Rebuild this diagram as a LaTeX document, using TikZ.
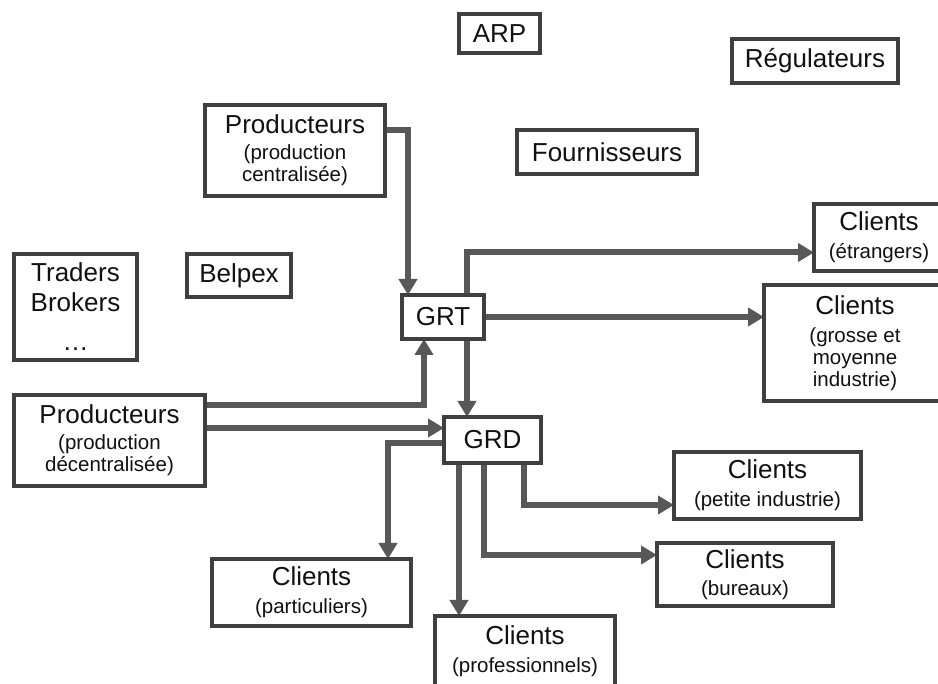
\documentclass[tikz,border=0pt]{standalone}
\usepackage{fontspec}
\setmainfont{Liberation Sans}
\usetikzlibrary{arrows.meta,backgrounds}
\definecolor{boxc}{HTML}{3F3F3F}
\definecolor{arrc}{HTML}{585858}
\definecolor{txtc}{HTML}{111111}
\newcommand{\mainsz}{\fontsize{26}{29}\selectfont}
\newcommand{\subsz}{\fontsize{20.5}{23}\selectfont}
\begin{document}
\begin{tikzpicture}[x=1pt,y=-1pt,
  box/.style={draw=boxc, line width=4pt, fill=white, inner sep=0pt, outer sep=0pt,
    align=center, font=\mainsz, text=txtc},
  arr/.style={draw=arrc, line width=6pt, -{Triangle[length=16pt,width=18pt]}}
]
\useasboundingbox (0,0) rectangle (938,684);

\node[box, minimum width=81pt,  minimum height=39pt]  (arp) at (499.5,33.5) {ARP};
\node[box, minimum width=166pt, minimum height=44pt]  (reg) at (815,61) {Régulateurs};
\node[box, minimum width=180pt, minimum height=91pt]  (pc)  at (295,150.5)
  {Producteurs\\[-3pt]\subsz (production\\[-7pt]\subsz centralisée)};
\node[box, minimum width=180pt, minimum height=44pt]  (fou) at (607,152) {Fournisseurs};
\node[box, minimum width=130pt, minimum height=67pt]  (etr) at (879,237.5)
  {Clients\\[-1pt]\subsz (étrangers)};
\node[box, minimum width=123pt, minimum height=106pt] (tra) at (75.5,307)
  {Traders\\[1pt]Brokers\\[10pt]…};
\node[box, minimum width=104pt, minimum height=43pt]  (bel) at (239,275.5) {Belpex};
\node[box, minimum width=82pt,  minimum height=44pt]  (grt) at (443,317) {GRT};
\node[box, minimum width=182pt, minimum height=116pt] (gro) at (855,343)
  {Clients\\[-1pt]\subsz (grosse et\\[-7pt]\subsz moyenne\\[-7pt]\subsz industrie)};
\node[box, minimum width=191pt, minimum height=91pt]  (pd)  at (109.5,440.5)
  {Producteurs\\[-3pt]\subsz (production\\[-7pt]\subsz décentralisée)};
\node[box, minimum width=97pt,  minimum height=46pt]  (grd) at (492.5,440) {GRD};
\node[box, minimum width=187pt, minimum height=67pt]  (pet) at (767.5,485.5)
  {Clients\\[-1pt]\subsz (petite industrie)};
\node[box, minimum width=176pt, minimum height=63pt]  (bur) at (745,574.5)
  {Clients\\[-2pt]\subsz (bureaux)};
\node[box, minimum width=199pt, minimum height=67pt]  (par) at (311.5,592.5)
  {Clients\\[-1pt]\subsz (particuliers)};
\node[box, minimum width=180pt, minimum height=70pt]  (pro) at (525,651)
  {Clients\\[-1pt]\subsz (professionnels)};

\begin{pgfonlayer}{background}
\fill[white] (0,0) rectangle (938,684);
\draw[arr] ([yshift=20.5pt]pc.east) -| ([xshift=-35pt]grt.north);
\draw[arr] ([xshift=24pt]grt.north) |- ([yshift=-15pt]etr.west);
\draw[arr] (grt.east) -- (grt.east -| gro.west);
\draw[arr] ([xshift=24pt]grt.south) -- ([xshift=24pt]grt.south |- grd.north);
\draw[arr] ([yshift=35.5pt]pd.east) -| ([xshift=-19pt]grt.south);
\draw[arr] ([yshift=12.5pt]pd.east) -- ([yshift=12.5pt]pd.east -| grd.west);
\draw[arr] ([yshift=-3pt]grd.west) -| ([xshift=76.5pt]par.north);
\draw[arr] ([xshift=-33.5pt]grd.south) -- ([xshift=-33.5pt]grd.south |- pro.north);
\draw[arr] ([xshift=-8.5pt]grd.south) |- ([yshift=19.5pt]bur.west);
\draw[arr] ([xshift=31.5pt]grd.south) |- ([yshift=-19.5pt]pet.west);
\end{pgfonlayer}
\end{tikzpicture}
\end{document}
